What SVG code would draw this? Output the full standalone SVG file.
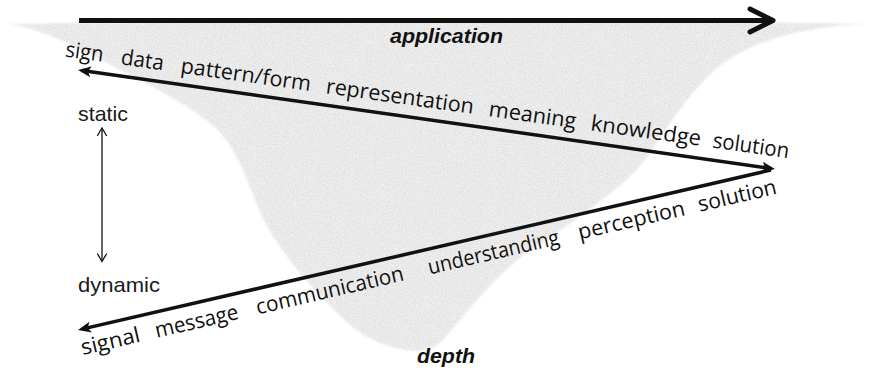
<svg xmlns="http://www.w3.org/2000/svg" width="876" height="370" viewBox="0 0 876 370">
<style>
.word{font-family:"Open Sans","DejaVu Sans",sans-serif;font-size:21.5px;fill:#111}
.lbl{font-family:"Liberation Sans",Arial,sans-serif;font-size:21px;fill:#1a1a1a}
.axis{font-family:"Liberation Sans",Arial,sans-serif;font-size:21px;font-weight:bold;font-style:italic;fill:#111}
.conn{stroke:#111;fill:none}
</style>
<defs>
<filter id="grain" x="-5%" y="-5%" width="110%" height="110%" color-interpolation-filters="sRGB">
<feGaussianBlur in="SourceGraphic" stdDeviation="1.2" result="b"/>
<feTurbulence type="fractalNoise" baseFrequency="1.1" numOctaves="1" seed="4" result="n"/>
<feColorMatrix in="n" type="matrix" values="0.16 0 0 0 0.835  0.16 0 0 0 0.835  0.16 0 0 0 0.835  0 0 0 0 1" result="g"/>
<feComposite in="g" in2="b" operator="in"/>
</filter>
<marker id="ah" markerUnits="userSpaceOnUse" orient="auto-start-reverse" overflow="visible" markerWidth="1" markerHeight="1" refX="0" refY="0">
<path d="M4,0 L-9,-5.5 L-6,0 L-9,5.5 Z" fill="#111"/>
</marker>
</defs>
<g id="funnel">
<path d="M8,24 C300,19 600,19 872,24 C810,25 760,38 725,62 C690,88 670,125 645,160 C620,192 560,230 520,258 C490,282 462,318 445,338 C436,348 428,351 418,351 C398,351 370,342 350,325 C320,298 288,262 268,228 C250,196 245,160 218,130 C195,108 150,85 105,62 C70,44 40,28 8,24 Z" fill="#000" filter="url(#grain)"/>
</g>
<g id="connectors">
<line class="conn" x1="79" y1="20.5" x2="772" y2="20.5" stroke-width="5"/>
<polyline class="conn" points="750,9 773,20.5 750,32" stroke-width="5" stroke-linecap="round" stroke-linejoin="round"/>
<line class="conn" x1="82" y1="70.6" x2="771" y2="168.4" stroke-width="3.5" marker-start="url(#ah)" marker-end="url(#ah)"/>
<line class="conn" x1="81.9" y1="329.1" x2="771" y2="170" stroke-width="3.5" marker-start="url(#ah)"/>
<line class="conn" x1="102" y1="129" x2="102" y2="261" stroke-width="1.3"/>
<polyline class="conn" points="97.3,136 102,128 106.7,136" stroke-width="1.3"/>
<polyline class="conn" points="97.3,253.5 102,261.5 106.7,253.5" stroke-width="1.3"/>
</g>
<g id="application"><text class="axis" x="390" y="43" textLength="113" lengthAdjust="spacingAndGlyphs">application</text></g>
<g id="depth"><text class="axis" x="417" y="363" textLength="58" lengthAdjust="spacingAndGlyphs">depth</text></g>
<g id="static"><text class="lbl" x="78" y="121" textLength="50" lengthAdjust="spacingAndGlyphs">static</text></g>
<g id="dynamic"><text class="lbl" x="78" y="292" textLength="82" lengthAdjust="spacingAndGlyphs">dynamic</text></g>
<g id="upper-words" transform="translate(78,70) rotate(8)">
<text class="word" x="-15" y="-11.5" textLength="38" lengthAdjust="spacingAndGlyphs">sign</text>
<text class="word" x="41" y="-11.5" textLength="43" lengthAdjust="spacingAndGlyphs">data</text>
<text class="word" x="101.5" y="-11.5" textLength="131" lengthAdjust="spacingAndGlyphs">pattern/form</text>
<text class="word" x="248" y="-11.5" textLength="149" lengthAdjust="spacingAndGlyphs">representation</text>
<text class="word" x="412.5" y="-11.5" textLength="88" lengthAdjust="spacingAndGlyphs">meaning</text>
<text class="word" x="515.5" y="-11.5" textLength="111" lengthAdjust="spacingAndGlyphs">knowledge</text>
<text class="word" x="638.5" y="-11.5" textLength="77" lengthAdjust="spacingAndGlyphs">solution</text>
</g>
<g id="lower-words" transform="translate(78,330) rotate(-13.08)">
<text class="word" x="-1" y="25.5" textLength="60" lengthAdjust="spacingAndGlyphs">signal</text>
<text class="word" x="75" y="25.5" textLength="85" lengthAdjust="spacingAndGlyphs">message</text>
<text class="word" x="178.7" y="25.5" textLength="151" lengthAdjust="spacingAndGlyphs">communication</text>
<text class="word" x="355.3" y="25.5" textLength="134" lengthAdjust="spacingAndGlyphs">understanding</text>
<text class="word" x="509.3" y="25.5" textLength="109" lengthAdjust="spacingAndGlyphs">perception</text>
<text class="word" x="632.5" y="25.5" textLength="80" lengthAdjust="spacingAndGlyphs">solution</text>
</g>
</svg>
